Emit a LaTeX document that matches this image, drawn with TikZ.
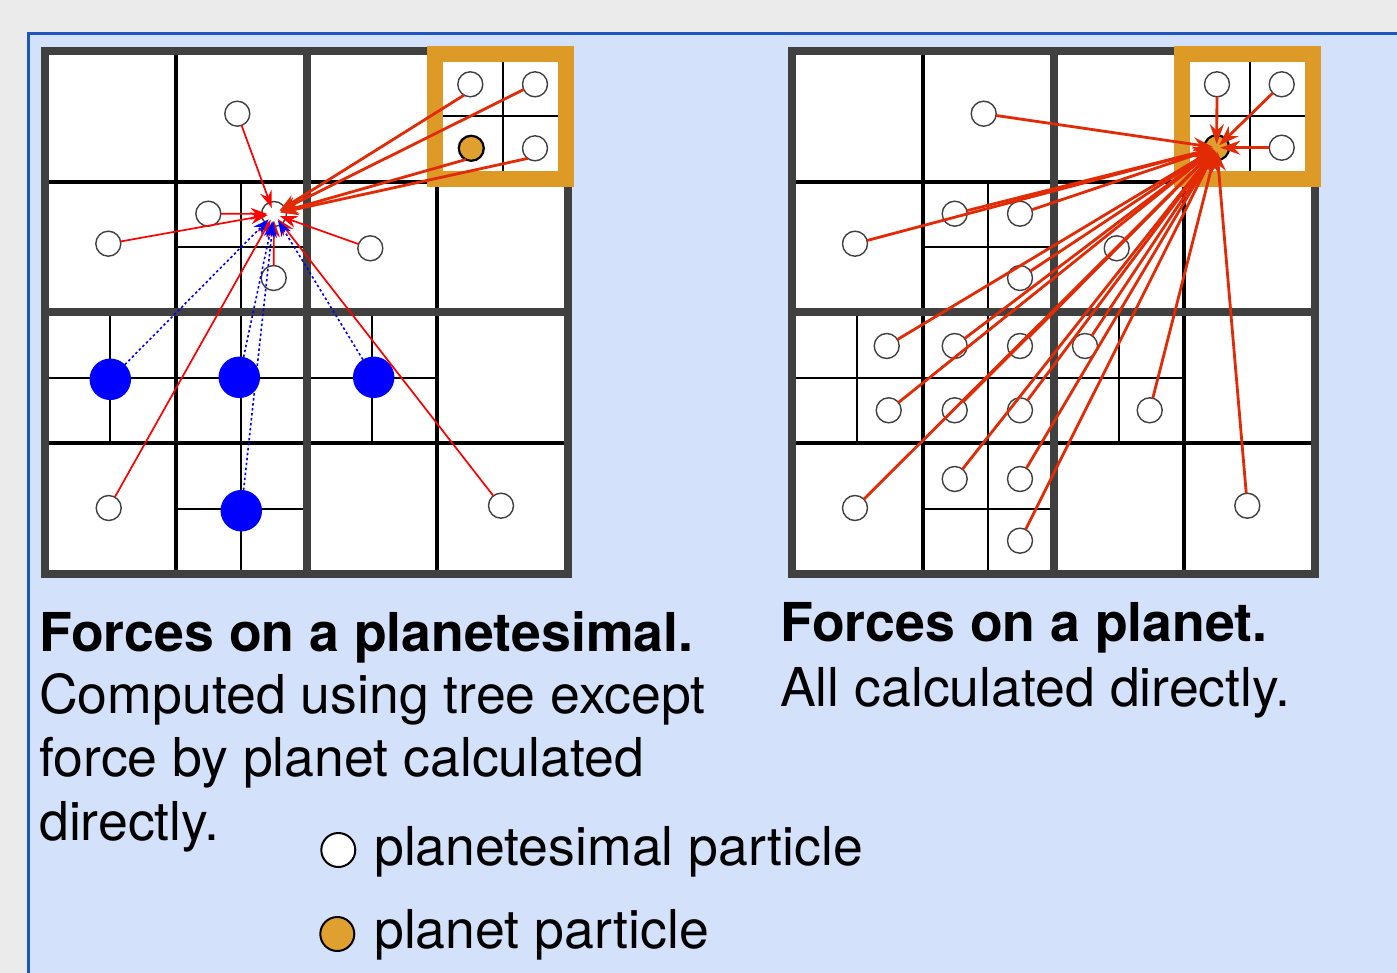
\documentclass[tikz,border=0pt]{standalone}
\usepackage{fontspec}
\setmainfont{TeX Gyre Heros}
\usetikzlibrary{arrows.meta,shadows}
\definecolor{pagegray}{HTML}{EBEBEB}
\definecolor{panelblue}{HTML}{D4E1FA}
\definecolor{panelline}{HTML}{1E55BE}
\definecolor{framegray}{HTML}{404040}
\definecolor{boxorange}{HTML}{DD9A27}
\definecolor{planetorange}{HTML}{E0A030}
\definecolor{forcered}{HTML}{E22A05}
\definecolor{ptgray}{HTML}{404040}
\newcommand\cellsz{130.75}
\newcommand\drawqgrid[1]{%
  \begin{scope}[shift={#1}]
    \fill[white] (0,0) rectangle (4*\cellsz,4*\cellsz);
    \foreach \i/\j in {1/1,0/2,1/2,2/2,1/3,3/0}{
      \draw[fineline] ({(\i+0.5)*\cellsz},{\j*\cellsz}) -- ({(\i+0.5)*\cellsz},{(\j+1)*\cellsz});
      \draw[fineline] ({\i*\cellsz},{(\j+0.5)*\cellsz}) -- ({(\i+1)*\cellsz},{(\j+0.5)*\cellsz});
    }
    \draw[quartline] (\cellsz,0) -- (\cellsz,4*\cellsz);
    \draw[quartline] (3*\cellsz,0) -- (3*\cellsz,4*\cellsz);
    \draw[quartline] (0,\cellsz) -- (4*\cellsz,\cellsz);
    \draw[quartline] (0,3*\cellsz) -- (4*\cellsz,3*\cellsz);
    \draw[frameline] (2*\cellsz,0) -- (2*\cellsz,4*\cellsz);
    \draw[frameline] (0,2*\cellsz) -- (4*\cellsz,2*\cellsz);
    \draw[frameline] (0,0) rectangle (4*\cellsz,4*\cellsz);
    \draw[obox] (389.5,3) rectangle (520.5,128);
  \end{scope}}
\begin{document}
\begin{tikzpicture}[x=1pt,y=-1pt,
  fineline/.style={draw=black,line width=1.8pt},
  quartline/.style={draw=black,line width=4pt},
  frameline/.style={draw=framegray,line width=8pt},
  obox/.style={draw=boxorange,line width=16pt},
  ptcl/.style={circle,draw=ptgray,fill=white,line width=1.4pt,minimum size=25pt,inner sep=0pt,outer sep=0pt},
  planet/.style={circle,draw=black,fill=planetorange,line width=2.2pt,minimum size=25pt,inner sep=0pt,outer sep=0pt},
  bluep/.style={circle,fill=blue,minimum size=41.5pt,inner sep=0pt,outer sep=0pt},
  thinarr/.style={draw=red,line width=1.7pt,-{Stealth[length=17pt,width=12pt]},shorten >=-6pt},
  thickarr/.style={draw=forcered,line width=2.8pt,-{Stealth[length=18pt,width=13pt]},shorten >=-6pt},
  rightarr/.style={draw=forcered,line width=2.8pt,-{Stealth[length=20pt,width=14pt]},shorten >=-9pt},
  bluearr/.style={draw=blue,line width=1.6pt,dash pattern=on 2.5pt off 2.5pt,-{Stealth[length=16pt,width=11pt]},shorten >=-5pt},
  caption/.style={inner sep=0pt,anchor=base west,font=\fontsize{53.6}{63.5}\selectfont},
  legdot/.style={circle,draw=black,line width=2pt,minimum size=34pt,inner sep=0pt}]
\useasboundingbox (0,0) rectangle (1397,973);
\fill[pagegray] (0,0) rectangle (1397,973);
\filldraw[fill=panelblue,draw=panelline,line width=2.5pt] (28.5,33.5) rectangle (1430,1010);

% grids
\drawqgrid{(45,51)}
\drawqgrid{(792,51)}

% ---------- left picture ----------
\node[ptcl] (L1) at (237.3,113.7) {};
\node[ptcl] (L2) at (208.3,213.7) {};
\node[ptcl] (L3) at (108.3,243.7) {};
\node[ptcl] (L4) at (273.7,278) {};
\node[ptcl] (T)  at (274,214) {};
\node[ptcl] (L5) at (370.3,248.3) {};
\node[ptcl] (L6) at (108.7,508) {};
\node[ptcl] (L7) at (501,505.7) {};
\node[ptcl] (O1) at (470.3,84.3) {};
\node[ptcl] (O2) at (535,84.3) {};
\node[planet,drop shadow={shadow xshift=-1.2pt,shadow yshift=1.2pt,opacity=0.45}] (P) at (471.3,148.3) {};
\node[ptcl] (O3) at (535,148.3) {};
\node[bluep] (B1) at (110.3,379.3) {};
\node[bluep] (B2) at (239.3,377.3) {};
\node[bluep] (B3) at (241.3,510.7) {};
\node[bluep] (B4) at (373.7,377.3) {};

\foreach \s in {L1,L2,L3,L4,L5,L6,L7}{\draw[thinarr] (\s) -- (T);}
\draw[thickarr] (O1.240) -- (T);
\draw[thickarr] (O2.205) -- (T);
\draw[thickarr] (P.244) -- (T);
\draw[thickarr] (O3.234) -- (T);
\foreach \s in {B1,B2,B3,B4}{\draw[bluearr] (\s) -- (T);}

% ---------- right picture ----------
\node[ptcl] (R1) at (983.7,113.7) {};
\node[ptcl] (R2) at (855,243.7) {};
\node[ptcl] (R3) at (954.7,213.7) {};
\node[ptcl] (R4) at (1020,213.7) {};
\node[ptcl] (R5) at (1020,278) {};
\node[ptcl] (R6) at (1116.7,248.3) {};
\node[ptcl] (R7) at (886.7,346) {};
\node[ptcl] (R8) at (954.7,346) {};
\node[ptcl] (R9) at (1020,346) {};
\node[ptcl] (R10) at (1085,346) {};
\node[ptcl] (R11) at (888.7,410.3) {};
\node[ptcl] (R12) at (954.7,410.3) {};
\node[ptcl] (R13) at (1020,410.3) {};
\node[ptcl] (R14) at (1149.7,410.3) {};
\node[ptcl] (R15) at (855,508) {};
\node[ptcl] (R16) at (954.7,479) {};
\node[ptcl] (R17) at (1020,479) {};
\node[ptcl] (R18) at (1020,540.7) {};
\node[ptcl] (R19) at (1247.3,505.7) {};
\node[ptcl] (R20) at (1217,84.3) {};
\node[ptcl] (R21) at (1281.7,84.3) {};
\node[planet] (RP) at (1216.7,147.7) {};
\node[ptcl] (R22) at (1281.7,147.7) {};
\foreach \s in {R1,R2,R3,R4,R5,R6,R7,R8,R9,R10,R11,R12,R13,R14,R15,R16,R17,R18,R19,R20,R21,R22}{\draw[rightarr] (\s) -- (RP);}

% ---------- texts ----------
\node[caption] (capL) at (39,651.7) {\bfseries Forces on a planetesimal.};
\node[caption] (capLa) at (39,713.3) {Computed using tree except};
\node[caption] (capLb) at (39,776.7) {force by planet calculated};
\node[caption] (capLc) at (39,840) {directly.};
\node[caption] (capR) at (780,641.7) {\bfseries Forces on a planet.};
\node[caption] (capRa) at (780,706.7) {All calculated directly.};

% ---------- legend ----------
\node[legdot,fill=white] (lg1) at (338.3,850) {};
\node[legdot,fill=planetorange] (lg2) at (337.3,934) {};
\node[caption] (lgt1) at (374,865) {planetesimal particle};
\node[caption] (lgt2) at (374,948.3) {planet particle};
\end{tikzpicture}
\end{document}
